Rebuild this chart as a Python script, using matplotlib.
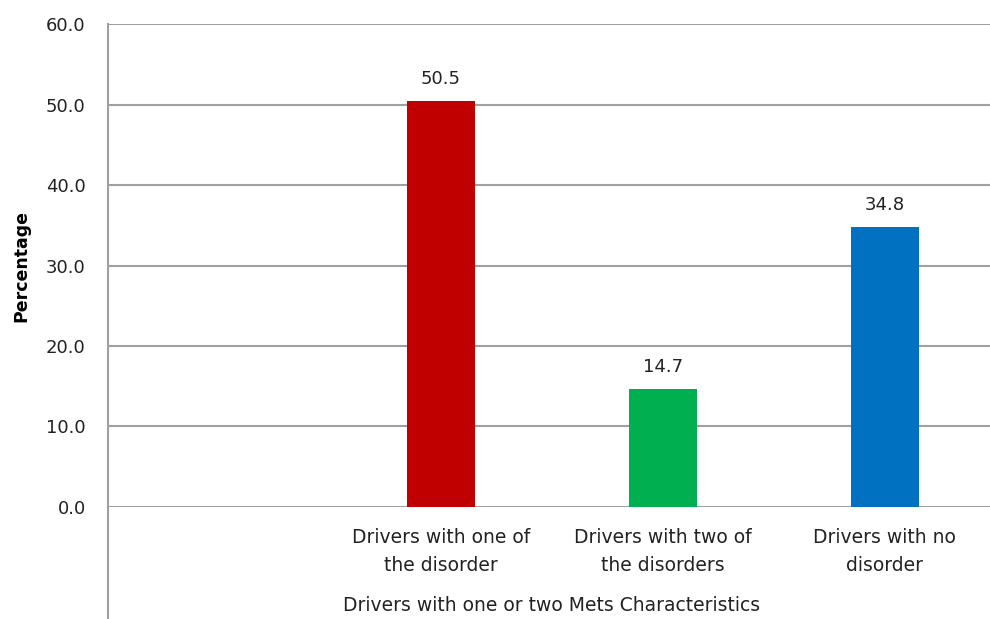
import matplotlib.pyplot as plt

# Share of drivers by number of MetS disorders
categories = ['', 'Drivers with one of\nthe disorder', 'Drivers with two of\nthe disorders',
              'Drivers with no\ndisorder']
values = [None, 50.5, 14.7, 34.8]
colors = [None, '#C00000', '#00B050', '#0070C0']
y_ticks = [0, 10, 20, 30, 40, 50, 60]

plt.rcParams['font.family'] = 'DejaVu Sans'

fig = plt.figure(figsize=(9.9, 6.19), dpi=100)
ax = fig.add_axes([0.109, 0.181, 0.897, 0.780])

for i, (v, c) in enumerate(zip(values, colors)):
    if v is None:
        continue
    ax.bar(i, v, width=0.31, color=c, zorder=3)
    ax.text(i, v + 1.6, f'{v:.1f}', ha='center', va='bottom', fontsize=13, color='#222222')

ax.set_xlim(-0.5, 3.5)
ax.set_ylim(0, 60)
ax.set_yticks(y_ticks)
ax.set_yticklabels([f'{t:.1f}' for t in y_ticks], fontsize=13, color='#222222')
ax.set_xticks(range(len(categories)))
ax.set_xticklabels(categories, fontsize=13.5, color='#222222', linespacing=1.6)
ax.tick_params(axis='both', length=0)
ax.tick_params(axis='y', pad=16)
ax.tick_params(axis='x', pad=15)

ax.grid(axis='y', color='#a0a0a0', linewidth=1.5, zorder=0)
for side in ['top', 'right', 'bottom']:
    ax.spines[side].set_visible(False)
ax.spines['left'].set_color('#a0a0a0')
ax.spines['left'].set_linewidth(1.5)
# left axis line runs down past the category labels
ax.plot([0, 0], [-0.25, 0], transform=ax.transAxes, color='#a0a0a0',
        linewidth=1.5, clip_on=False)

ax.set_ylabel('Percentage', fontsize=12.5, fontweight='bold', labelpad=11)
ax.set_xlabel('Drivers with one or two Mets Characteristics', fontsize=13.5,
              color='#222222', labelpad=15)

fig.savefig('out.png', dpi=100)
